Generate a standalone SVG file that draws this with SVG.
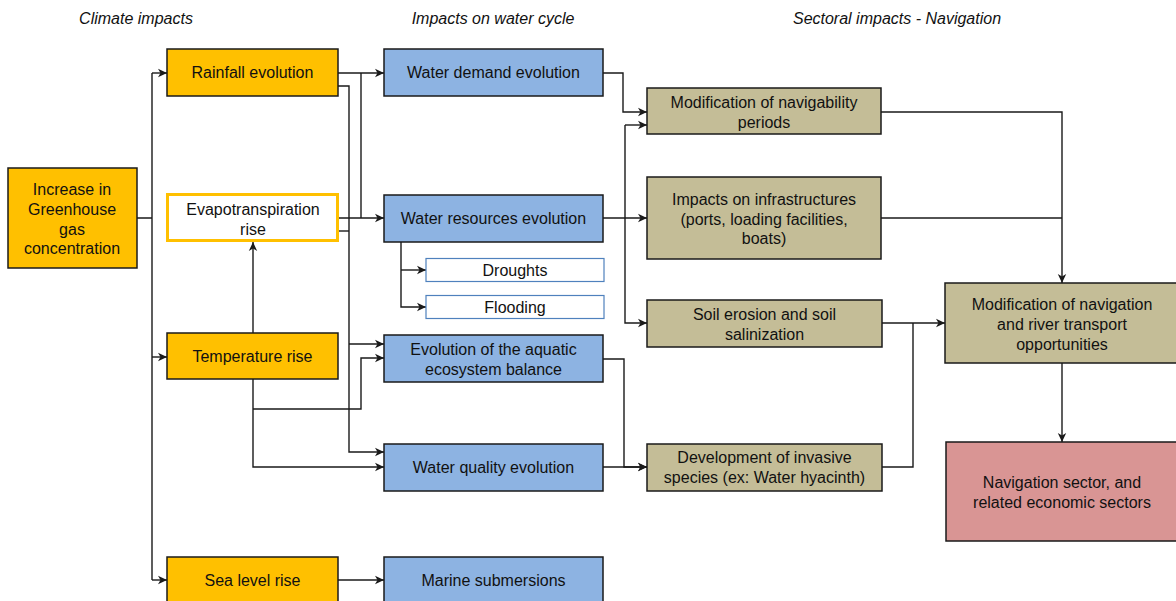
<svg xmlns="http://www.w3.org/2000/svg" width="1176" height="601" viewBox="0 0 1176 601">
  <style>
    text { font-family: "Liberation Sans", Arial, sans-serif; font-size: 16px; fill: #111; text-anchor: middle; }
    .hdr { font-style: italic; font-size: 16px; }
    .box { stroke: #1a1a1a; stroke-width: 1.5; }
    .climate { fill: #FFC000; }
    .water { fill: #8DB3E2; }
    .sector { fill: #C4BD97; }
    .econ { fill: #D99594; }
    .sub { fill: #fff; stroke: #4F81BD; stroke-width: 1.2; }
    .evap { fill: #fff; stroke: #FFC000; stroke-width: 3; }
    .link { fill: none; stroke: #1a1a1a; stroke-width: 1.4; }
    .arr { marker-end: url(#ah); }
  </style>
  <defs>
    <marker id="ah" markerUnits="userSpaceOnUse" markerWidth="10" markerHeight="10" refX="9" refY="5" orient="auto">
      <path d="M0,0.8 L9,5 L0,9.2 L2.5,5 z" fill="#1a1a1a"/>
    </marker>
  </defs>
  <rect width="1176" height="601" fill="#fff"/>

  <!-- column headings -->
  <text class="hdr" x="136" y="24">Climate impacts</text>
  <text class="hdr" x="493" y="24">Impacts on water cycle</text>
  <text class="hdr" x="897" y="24">Sectoral impacts - Navigation</text>

  <!-- connectors -->
  <g id="connectors">
    <path class="link" d="M137,218 H152 M152,73 V580"/>
    <path class="link arr" d="M152,73 H167"/>
    <path class="link arr" d="M152,357 H167"/>
    <path class="link arr" d="M152,580 H167"/>
    <path class="link arr" d="M253,333 V242"/>
    <path class="link arr" d="M338,73 H384"/>
    <path class="link" d="M361,73 V218"/>
    <path class="link arr" d="M338,218 H384"/>
    <path class="link arr" d="M338,86 H349 V452 H384"/>
    <path class="link" d="M338,231 H349"/>
    <path class="link arr" d="M349,344 H384"/>
    <path class="link arr" d="M253,379 V467 H384"/>
    <path class="link arr" d="M253,409 H361 V358 H384"/>
    <path class="link arr" d="M338,580 H384"/>
    <path class="link arr" d="M401,242 V307 H426"/>
    <path class="link arr" d="M401,270 H426"/>
    <path class="link arr" d="M603,73 H623 V112 H647"/>
    <path class="link arr" d="M603,218 H647"/>
    <path class="link arr" d="M625,125 V323 H647"/>
    <path class="link arr" d="M625,125 H647"/>
    <path class="link arr" d="M603,359 H624 V467 H647"/>
    <path class="link arr" d="M603,467 H647"/>
    <path class="link arr" d="M881,112 H1062 V283"/>
    <path class="link" d="M881,218 H1062"/>
    <path class="link arr" d="M882,323 H945"/>
    <path class="link" d="M882,467 H913 V323"/>
    <path class="link arr" d="M1062,363 V442"/>
  </g>

  <!-- climate impacts -->
  <g id="ghg">
    <rect class="box climate" x="8" y="168" width="129" height="100"/>
    <text x="72" y="195">Increase in</text>
    <text x="72" y="215">Greenhouse</text>
    <text x="72" y="235">gas</text>
    <text x="72" y="254">concentration</text>
  </g>
  <g id="rainfall">
    <rect class="box climate" x="167" y="49" width="171" height="47"/>
    <text x="252.5" y="78">Rainfall evolution</text>
  </g>
  <g id="evapotranspiration">
    <rect class="evap" x="167.5" y="194.5" width="170" height="46"/>
    <text x="253" y="215">Evapotranspiration</text>
    <text x="253" y="235">rise</text>
  </g>
  <g id="temperature">
    <rect class="box climate" x="167" y="333" width="171" height="46"/>
    <text x="252.5" y="362">Temperature rise</text>
  </g>
  <g id="sealevel">
    <rect class="box climate" x="167" y="557" width="171" height="47"/>
    <text x="252.5" y="586">Sea level rise</text>
  </g>

  <!-- water cycle -->
  <g id="waterdemand">
    <rect class="box water" x="384" y="49" width="219" height="47"/>
    <text x="493.5" y="78">Water demand  evolution</text>
  </g>
  <g id="waterresources">
    <rect class="box water" x="384" y="195" width="219" height="47"/>
    <text x="493.5" y="224">Water resources evolution</text>
  </g>
  <g id="droughts">
    <rect class="sub" x="426" y="258.5" width="178" height="23"/>
    <text x="515" y="276">Droughts</text>
  </g>
  <g id="flooding">
    <rect class="sub" x="426" y="295.5" width="178" height="23"/>
    <text x="515" y="313">Flooding</text>
  </g>
  <g id="ecosystem">
    <rect class="box water" x="384" y="335" width="219" height="47"/>
    <text x="493.5" y="355">Evolution of the aquatic</text>
    <text x="493.5" y="375">ecosystem balance</text>
  </g>
  <g id="waterquality">
    <rect class="box water" x="384" y="444" width="219" height="47"/>
    <text x="493.5" y="473">Water quality evolution</text>
  </g>
  <g id="marine">
    <rect class="box water" x="384" y="557" width="219" height="47"/>
    <text x="493.5" y="586">Marine submersions</text>
  </g>

  <!-- navigation sector -->
  <g id="navperiods">
    <rect class="box sector" x="647" y="88" width="234" height="46"/>
    <text x="764" y="108">Modification of navigability</text>
    <text x="764" y="128">periods</text>
  </g>
  <g id="infrastructures">
    <rect class="box sector" x="647" y="177" width="234" height="82"/>
    <text x="764" y="205">Impacts on infrastructures</text>
    <text x="764" y="225">(ports, loading facilities,</text>
    <text x="764" y="244">boats)</text>
  </g>
  <g id="soil">
    <rect class="box sector" x="647" y="300" width="235" height="47"/>
    <text x="764.5" y="320">Soil erosion and soil</text>
    <text x="764.5" y="340">salinization</text>
  </g>
  <g id="invasive">
    <rect class="box sector" x="647" y="444" width="235" height="47"/>
    <text x="764.5" y="463">Development of invasive</text>
    <text x="764.5" y="483">species (ex: Water hyacinth)</text>
  </g>
  <g id="navigation">
    <rect class="box sector" x="945" y="283" width="240" height="80"/>
    <text x="1062" y="310">Modification of navigation</text>
    <text x="1062" y="330">and river transport</text>
    <text x="1062" y="350">opportunities</text>
  </g>
  <g id="economy">
    <rect class="box econ" x="946" y="442" width="240" height="99"/>
    <text x="1062" y="488">Navigation sector, and</text>
    <text x="1062" y="508">related economic sectors</text>
  </g>
</svg>
